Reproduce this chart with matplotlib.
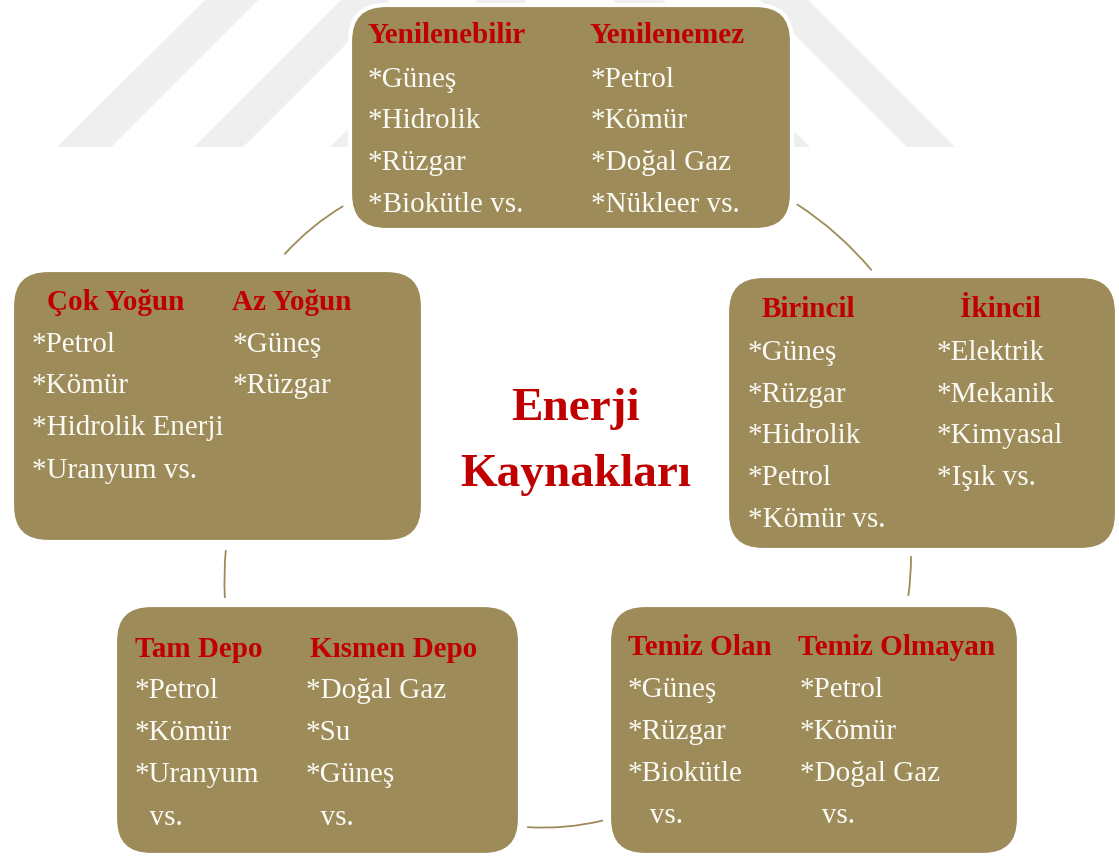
import matplotlib
matplotlib.use('Agg')
import matplotlib.pyplot as plt
from matplotlib.patches import FancyBboxPatch, Polygon, FancyArrowPatch

plt.rcParams['font.family'] = ['Liberation Serif', 'DejaVu Serif']

# box contents: (left header, right header, left items, right items)
top_heads = ['Yenilenebilir', 'Yenilenemez']
top_left = ['*Güneş', '*Hidrolik', '*Rüzgar', '*Biokütle vs.']
top_right = ['*Petrol', '*Kömür', '*Doğal Gaz', '*Nükleer vs.']

left_heads = ['Çok Yoğun', 'Az Yoğun']
left_left = ['*Petrol', '*Kömür', '*Hidrolik Enerji', '*Uranyum vs.']
left_right = ['*Güneş', '*Rüzgar']

right_heads = ['Birincil', 'İkincil']
right_left = ['*Güneş', '*Rüzgar', '*Hidrolik', '*Petrol', '*Kömür vs.']
right_right = ['*Elektrik', '*Mekanik', '*Kimyasal', '*Işık vs.']

bl_heads = ['Tam Depo', 'Kısmen Depo']
bl_left = ['*Petrol', '*Kömür', '*Uranyum', '  vs.']
bl_right = ['*Doğal Gaz', '*Su', '*Güneş', '  vs.']

br_heads = ['Temiz Olan', 'Temiz Olmayan']
br_left = ['*Güneş', '*Rüzgar', '*Biokütle', '   vs.']
br_right = ['*Petrol', '*Kömür', '*Doğal Gaz', '   vs.']

center_title = ['Enerji', 'Kaynakları']

FILL = '#9e8b5a'
RED = '#c00000'
TXT = '#fbfbf5'
FS = 21

fig = plt.figure(figsize=(11.19, 8.57), dpi=100)
ax = fig.add_axes([0, 0, 1, 1])
ax.set_xlim(0, 1119)
ax.set_ylim(857, 0)
ax.axis('off')

# faint watermark stripes in the background
stripes = [
    [(57, 147), (111, 147), (258, 0), (205, 0)],
    [(194, 147), (243, 147), (390, 0), (341, 0)],
    [(330, 147), (380, 147), (527, 0), (477, 0)],
    [(907, 147), (955, 147), (808, 0), (760, 0)],
    [(760, 147), (810, 147), (663, 0), (613, 0)],
]
for s in stripes:
    ax.add_patch(Polygon(s, closed=True, facecolor='#efefef', edgecolor='none', zorder=0))

# connectors
links = [((283, 256), (345, 205), -0.08),
         ((795, 203), (873, 272), -0.08),
         ((226, 548), (225, 600), 0.04),
         ((911, 554), (908, 598), -0.04),
         ((525, 827), (605, 820), 0.08)]
for a, b, rad in links:
    ax.add_patch(FancyArrowPatch(a, b, arrowstyle='-', connectionstyle='arc3,rad=%s' % rad,
                                 color=FILL, lw=1.3, zorder=1))

# boxes: (x0, y0, x1, y1), header baseline, item baselines, header xs, item xs
boxes = [
    ((350, 5, 792, 230), 43, [87, 128, 170, 212], (368, 590), (368, 591),
     top_heads, top_left, top_right),
    ((12, 270, 423, 542), 310, [352, 393, 435, 478], (47, 232), (32, 233),
     left_heads, left_left, left_right),
    ((727, 276, 1117, 550), 317, [360, 402, 443, 485, 527], (762, 960), (748, 937),
     right_heads, right_left, right_right),
    ((115, 605, 520, 855), 657, [698, 740, 782, 825], (135, 310), (135, 306),
     bl_heads, bl_left, bl_right),
    ((609, 605, 1019, 855), 655, [697, 739, 781, 823], (628, 798), (628, 800),
     br_heads, br_left, br_right),
]

for (x0, y0, x1, y1), hy, ys, hx, ix, heads, lcol, rcol in boxes:
    ax.add_patch(FancyBboxPatch((x0, y0), x1 - x0, y1 - y0,
                                boxstyle='round,pad=0,rounding_size=36',
                                facecolor=FILL, edgecolor='white', lw=3, zorder=2))
    ax.text(hx[0], hy, heads[0], color=RED, fontsize=FS, fontweight='bold',
            va='baseline', ha='left', zorder=3)
    ax.text(hx[1], hy, heads[1], color=RED, fontsize=FS, fontweight='bold',
            va='baseline', ha='left', zorder=3)
    for i, t in enumerate(lcol):
        ax.text(ix[0], ys[i], t, color=TXT, fontsize=FS, va='baseline', ha='left', zorder=3)
    for i, t in enumerate(rcol):
        ax.text(ix[1], ys[i], t, color=TXT, fontsize=FS, va='baseline', ha='left', zorder=3)

ax.text(575, 420, center_title[0], color=RED, fontsize=34, fontweight='bold',
        ha='center', va='baseline')
ax.text(576, 486, center_title[1], color=RED, fontsize=34, fontweight='bold',
        ha='center', va='baseline')

fig.savefig('out.png', dpi=100, facecolor='white')
